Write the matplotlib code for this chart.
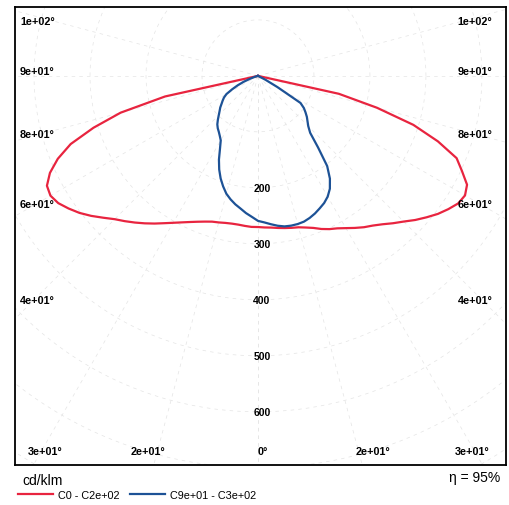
import matplotlib.pyplot as plt
import numpy as np

plt.rcParams['font.family'] = ['Liberation Sans', 'DejaVu Sans']

# gamma angles (deg from downward vertical) and intensities in cd/klm
gamma = [0, 2.5, 5, 7.5, 10, 12.5, 15, 17.5, 20, 22.5, 25, 27.5, 30, 32.5, 35, 37.5,
         40, 42.5, 45, 47.5, 50, 52.5, 55, 57.5, 60, 62.5, 65, 67.5, 70, 72.5, 75,
         77.5, 80, 82.5, 85, 87.5, 90]

red_c0 = [270, 271, 272, 274, 276, 278, 280, 284, 289, 296, 302, 307, 314, 322, 330, 337,
          346, 357, 368, 381, 393, 405, 415, 424, 427, 421, 402, 384, 342, 291, 220,
          148, 0, 0, 0, 0, 0]
red_c180 = [270, 270, 269, 268, 268, 269, 271, 273, 277, 282, 288, 295, 303, 312, 322, 332,
            342, 352, 362, 375, 389, 402, 413, 423, 428, 425, 410, 387, 356, 308, 254,
            170, 0, 0, 0, 0, 0]
blue_c90 = [259, 262, 266, 270, 273, 274, 274, 273, 270, 266, 261, 256, 249, 239, 224, 203,
            167, 138, 127, 120, 114, 107, 100, 90, 40, 15, 0, 0, 0, 0, 0,
            0, 0, 0, 0, 0, 0]
blue_c270 = [259, 252, 246, 239, 233, 226, 218, 207, 195, 181, 165, 147, 133, 127, 122, 118,
             113, 106, 99, 93, 88, 82, 77, 72, 65, 52, 40, 28, 15, 6, 0,
             0, 0, 0, 0, 0, 0]

circle_radii = [100, 200, 300, 400, 500, 600, 700, 800]
radius_labels = [200, 300, 400, 500, 600]
grid_angles = [0, 15, 30, 45, 60, 75, 90, 105]


def outline(left, right):
    g = np.radians(gamma)
    left = np.array(left, dtype=float)
    right = np.array(right, dtype=float)
    x = np.concatenate([(-left * np.sin(g))[::-1], right * np.sin(g)])
    y = np.concatenate([(-left * np.cos(g))[::-1], -right * np.cos(g)])
    return x, y


fig = plt.figure(figsize=(5.09, 5.06), dpi=100)
ax = fig.add_axes([15 / 509, 1 - 466 / 506, 491 / 509, 458 / 506])
ax.set_xlim(-434, 443)
ax.set_ylim(-695, 123)
ax.set_xticks([])
ax.set_yticks([])
for s in ax.spines.values():
    s.set_linewidth(1.3)
    s.set_color('black')

# faint polar grid
grid_style = dict(color='#e4e4e4', lw=0.5, ls=(0, (5, 6)), zorder=1)
t = np.linspace(0, 2 * np.pi, 400)
for r in circle_radii:
    ax.plot(r * np.cos(t), r * np.sin(t), **grid_style)
for a in grid_angles:
    ar = np.radians(a)
    for sgn in (-1, 1):
        ax.plot([0, sgn * 1200 * np.sin(ar)], [0, -1200 * np.cos(ar)], **grid_style)

x, y = outline(red_c180, red_c0)
ax.plot(x, y, color='#e8243f', lw=1.6, zorder=3, label='C0 - C2e+02')
x, y = outline(blue_c270, blue_c90)
ax.plot(x, y, color='#1d5296', lw=1.6, zorder=4, label='C9e+01 - C3e+02')

for r in radius_labels:
    ax.text(7, -r, str(r), ha='center', va='center', fontsize=7.5, fontweight='bold', zorder=5)


def angle_text(a):
    return '0°' if a == 0 else f'{a:.0e}°'


side_rows = [(105, 0.970), (90, 0.860), (75, 0.723), (60, 0.569), (45, 0.360)]
for a, yf in side_rows:
    ax.text(0.010, yf, angle_text(a), transform=ax.transAxes, ha='left', va='center',
            fontsize=7.8, fontweight='bold')
    ax.text(0.972, yf, angle_text(a), transform=ax.transAxes, ha='right', va='center',
            fontsize=7.8, fontweight='bold')

bottom_row = [(30, 0.026, 'left'), (15, 0.271, 'center'), (0, 0.505, 'center'),
              (15, 0.729, 'center'), (30, 0.967, 'right')]
for a, xf, ha in bottom_row:
    ax.text(xf, 0.031, angle_text(a), transform=ax.transAxes, ha=ha, va='center',
            fontsize=7.8, fontweight='bold')

fig.text(22 / 509, 1 - 481 / 506, 'cd/klm', ha='left', va='center', fontsize=10)
fig.text(500 / 509, 1 - 478 / 506, 'η = 95%', ha='right', va='center', fontsize=10)

fig.legend(loc='center left', bbox_to_anchor=(18 / 509, 1 - 496 / 506), ncol=2,
           frameon=False, fontsize=7.8, handlelength=3.2, handletextpad=0.5,
           columnspacing=1.0, borderaxespad=0, borderpad=0)

fig.savefig('out.png', dpi=100)
